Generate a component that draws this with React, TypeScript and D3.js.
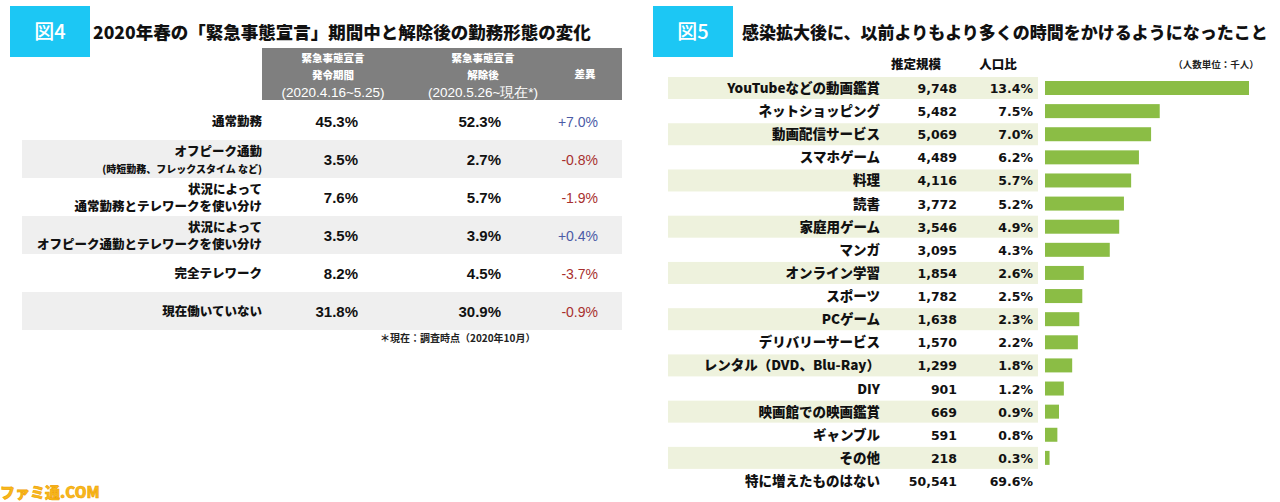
import React from "react";
import * as d3 from "d3";

// ---------- Figure 4 data ----------
const workStyles: string[][] = [
  ["通常勤務"],
  ["オフピーク通勤", "(時短勤務、フレックスタイム など)"],
  ["状況によって", "通常勤務とテレワークを使い分け"],
  ["状況によって", "オフピーク通勤とテレワークを使い分け"],
  ["完全テレワーク"],
  ["現在働いていない"],
];
const duringEmergency = [45.3, 3.5, 7.6, 3.5, 8.2, 31.8];
const afterEmergency = [52.3, 2.7, 5.7, 3.9, 4.5, 30.9];
const differences = [7.0, -0.8, -1.9, 0.4, -3.7, -0.9];
const headerCols: string[][] = [
  ["緊急事態宣言", "発令期間", "(2020.4.16~5.25)"],
  ["緊急事態宣言", "解除後", "(2020.5.26~現在*)"],
  ["差異"],
];

// ---------- Figure 5 data ----------
const activities = [
  "YouTubeなどの動画鑑賞",
  "ネットショッピング",
  "動画配信サービス",
  "スマホゲーム",
  "料理",
  "読書",
  "家庭用ゲーム",
  "マンガ",
  "オンライン学習",
  "スポーツ",
  "PCゲーム",
  "デリバリーサービス",
  "レンタル（DVD、Blu-Ray）",
  "DIY",
  "映画館での映画鑑賞",
  "ギャンブル",
  "その他",
  "特に増えたものはない",
];
const estimates = [9748, 5482, 5069, 4489, 4116, 3772, 3546, 3095, 1854, 1782, 1638, 1570, 1299, 901, 669, 591, 218, 50541];
const shares = [13.4, 7.5, 7.0, 6.2, 5.7, 5.2, 4.9, 4.3, 2.6, 2.5, 2.3, 2.2, 1.8, 1.2, 0.9, 0.8, 0.3, 69.6];
const hasBar = activities.map((a) => a !== "特に増えたものはない");

const JP = "'Noto Sans CJK JP', 'Noto Sans', sans-serif";
const NUM = "'Liberation Sans', Arial, sans-serif";
const RND = "'DejaVu Sans', 'Noto Sans CJK JP', sans-serif";

export default function App() {
  // Figure 4 layout
  const rowY = d3.scalePoint<number>().domain(d3.range(workStyles.length)).range([121, 311]);
  const rowH = 38;
  const fmtPct = (v: number) => v.toFixed(1) + "%";
  const fmtDiff = (v: number) => (v > 0 ? "+" : "") + v.toFixed(1) + "%";

  // Figure 5 layout
  const rY = d3.scalePoint<number>().domain(d3.range(activities.length)).range([88, 481]);
  const barMax = d3.max(estimates.filter((_, i) => hasBar[i])) as number;
  const xBar = d3.scaleLinear().domain([0, barMax]).range([0, 204]);
  const fmtNum = d3.format(",");

  return (
    <svg width={1280} height={502} style={{ position: "absolute", left: 0, top: 0, background: "#fff" }}>
      {/* ===== Figure 4 ===== */}
      <rect x={10} y={6} width={80} height={51} fill="#1cc7f4" />
      <text x={50} y={39} textAnchor="middle" fill="#fff" fontFamily={JP} fontSize={20} fontWeight={500}>図4</text>
      <text x={93} y={39} fontFamily={JP} fontSize={17.5} fontWeight={900} fill="#111">
        2020年春の「緊急事態宣言」期間中と解除後の勤務形態の変化
      </text>

      <rect x={262} y={48} width={360} height={52} fill="#7f7f7f" />
      {headerCols.map((lines, c) => {
        const cx = [333, 483, 585][c];
        return lines.map((ln, j) => {
          const y = lines.length === 1 ? 78 : [62, 79, 97][j];
          const isDate = j === 2;
          return (
            <text key={`${c}-${j}`} x={cx} y={y} textAnchor="middle" fill="#fff"
              fontFamily={isDate ? NUM : JP} fontSize={isDate ? 13.5 : 10.5} fontWeight={isDate ? 400 : 900}>
              {ln}
            </text>
          );
        });
      })}

      {workStyles.map((lines, i) => {
        const cy = rowY(i) as number;
        return (
          <g key={i}>
            {i % 2 === 1 && <rect x={22} y={cy - rowH / 2} width={600} height={rowH} fill="#efefef" />}
            {lines.length === 1 ? (
              <text x={262} y={cy + 5} textAnchor="end" fontFamily={JP} fontSize={12.5} fontWeight={900} fill="#111">{lines[0]}</text>
            ) : (
              <>
                <text x={262} y={cy - 3} textAnchor="end" fontFamily={JP} fontSize={12.5} fontWeight={900} fill="#111">{lines[0]}</text>
                <text x={262} y={cy + 14} textAnchor="end" fontFamily={JP}
                  fontSize={i === 1 ? 10 : 12.5} fontWeight={900} fill="#111">{lines[1]}</text>
              </>
            )}
            <text x={358} y={cy + 6} textAnchor="end" fontFamily={NUM} fontSize={15} fontWeight={700} fill="#111">{fmtPct(duringEmergency[i])}</text>
            <text x={501} y={cy + 6} textAnchor="end" fontFamily={NUM} fontSize={15} fontWeight={700} fill="#111">{fmtPct(afterEmergency[i])}</text>
            <text x={598} y={cy + 6} textAnchor="end" fontFamily={NUM} fontSize={14} fontWeight={400}
              fill={differences[i] > 0 ? "#4b5aa6" : "#a8302e"}>{fmtDiff(differences[i])}</text>
          </g>
        );
      })}
      <text x={380} y={342} fontFamily={JP} fontSize={10} fontWeight={700} fill="#222">＊現在：調査時点（2020年10月）</text>

      {/* ===== Figure 5 ===== */}
      <rect x={653} y={6} width={80} height={51} fill="#1cc7f4" />
      <text x={693} y={39} textAnchor="middle" fill="#fff" fontFamily={JP} fontSize={20} fontWeight={500}>図5</text>
      <text x={742} y={39} fontFamily={JP} fontSize={17} fontWeight={900} fill="#111">
        感染拡大後に、以前よりもより多くの時間をかけるようになったこと
      </text>

      <text x={916} y={69} textAnchor="middle" fontFamily={JP} fontSize={12.5} fontWeight={900} fill="#111">推定規模</text>
      <text x={998} y={69} textAnchor="middle" fontFamily={JP} fontSize={12.5} fontWeight={900} fill="#111">人口比</text>
      <text x={1216} y={68} textAnchor="middle" fontFamily={JP} fontSize={9.5} fontWeight={700} fill="#222">（人数単位：千人）</text>

      {activities.map((a, i) => {
        const cy = rY(i) as number;
        return (
          <g key={a}>
            {i % 2 === 0 && hasBar[i] && <rect x={668} y={cy - 11} width={370} height={22} fill="#eef2dd" />}
            <text x={880} y={cy + 5} textAnchor="end" fontFamily={JP} fontSize={13.5} fontWeight={900} fill="#111">{a}</text>
            <text x={957} y={cy + 5} textAnchor="end" fontFamily={RND} fontSize={12.5} fontWeight={700} fill="#111">{fmtNum(estimates[i])}</text>
            <text x={1033} y={cy + 5} textAnchor="end" fontFamily={RND} fontSize={12.5} fontWeight={700} fill="#111">{shares[i].toFixed(1) + "%"}</text>
            {hasBar[i] && <rect x={1045} y={cy - 7} width={xBar(estimates[i])} height={14} fill="#8bbd45" />}
          </g>
        );
      })}

      {/* watermark */}
      <text x={0} y={498} fontFamily={JP} fontSize={15} fontWeight={900} fill="#f7b91b" stroke="#f0a000" strokeWidth={0.6}>ファミ通.COM</text>
    </svg>
  );
}
